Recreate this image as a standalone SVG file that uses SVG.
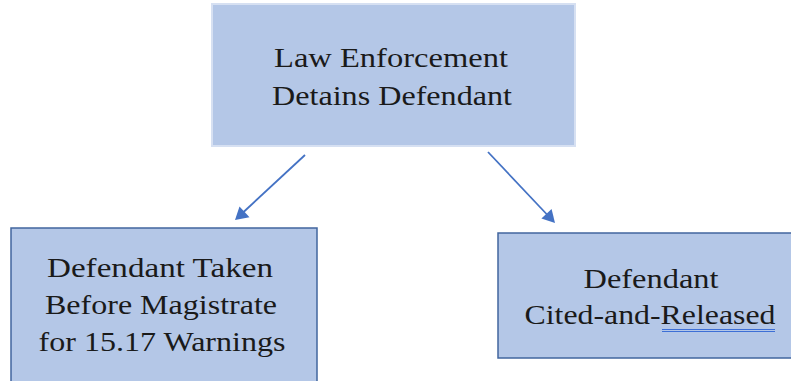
<svg xmlns="http://www.w3.org/2000/svg" width="791" height="381" viewBox="0 0 791 381">
  <style>
    .box { fill: #b4c7e7; }
    .edge { stroke: #41669e; stroke-width: 1.5; }
    .top { stroke: #d6e0f2; stroke-width: 2; }
    text { font-family: "Liberation Serif", "Times New Roman", Times, serif; font-size: 28px; fill: #1a1a1a; text-anchor: middle; }
    .conn { stroke: #4472c4; stroke-width: 1.8; fill: none; }
    .head { fill: #4472c4; }
  </style>
  <rect width="791" height="381" fill="#ffffff"/>

  <g id="node-detains">
    <rect class="box top" x="212" y="4" width="363" height="142"/>
    <text x="391" y="67" font-family="Liberation Serif, serif" textLength="234" lengthAdjust="spacingAndGlyphs">Law Enforcement</text>
    <text x="392" y="105" font-family="Liberation Serif, serif" textLength="240" lengthAdjust="spacingAndGlyphs">Detains Defendant</text>
  </g>

  <g id="node-magistrate">
    <rect class="box edge" x="11" y="228" width="306" height="160"/>
    <text x="160" y="277" font-family="Liberation Serif, serif" textLength="226" lengthAdjust="spacingAndGlyphs">Defendant Taken</text>
    <text x="161" y="314" font-family="Liberation Serif, serif" textLength="232" lengthAdjust="spacingAndGlyphs">Before Magistrate</text>
    <text x="162" y="351" font-family="Liberation Serif, serif" textLength="247" lengthAdjust="spacingAndGlyphs">for 15.17 Warnings</text>
  </g>

  <g id="node-released">
    <rect class="box edge" x="498" y="233" width="300" height="125"/>
    <text x="651" y="288" font-family="Liberation Serif, serif" textLength="135" lengthAdjust="spacingAndGlyphs">Defendant</text>
    <text x="650" y="324" font-family="Liberation Serif, serif" textLength="251" lengthAdjust="spacingAndGlyphs">Cited-and-Released</text>
    <line x1="662" y1="329.5" x2="775" y2="329.5" stroke="#3d6fd6" stroke-width="1.2"/>
    <line x1="662" y1="331.5" x2="775" y2="331.5" stroke="#3d6fd6" stroke-width="1.2"/>
  </g>

  <g id="connectors">
    <line class="conn" x1="305" y1="155" x2="243" y2="212.5"/>
    <polygon class="head" points="235,220 239.5,206.5 249.5,217.3"/>
    <line class="conn" x1="488" y1="152" x2="547" y2="214.5"/>
    <polygon class="head" points="555,223 541.4,218.6 551.6,209"/>
  </g>
</svg>
